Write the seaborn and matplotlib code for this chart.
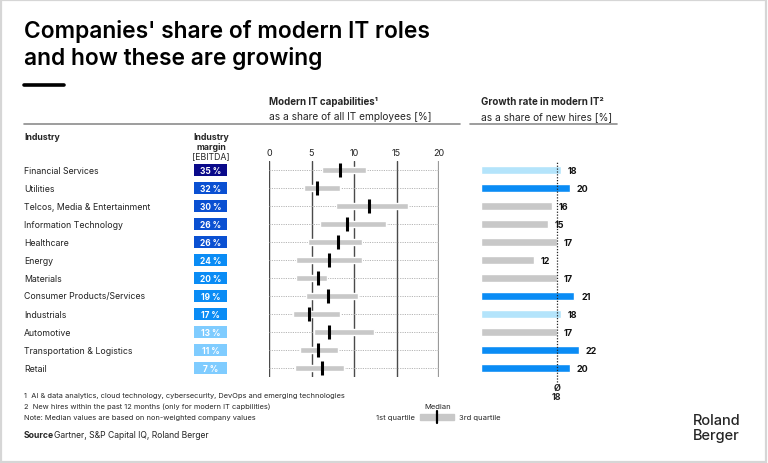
import numpy as np
import pandas as pd
import seaborn as sns
import matplotlib.pyplot as plt
import matplotlib.transforms as mtransforms
from matplotlib.colors import ListedColormap, BoundaryNorm
from matplotlib.patches import Rectangle
from matplotlib.lines import Line2D

industries = ["Financial Services", "Utilities", "Telcos, Media & Entertainment",
              "Information Technology", "Healthcare", "Energy", "Materials",
              "Consumer Products/Services", "Industrials", "Automotive",
              "Transportation & Logistics", "Retail"]
margin = [35, 32, 30, 26, 26, 24, 20, 19, 17, 13, 11, 7]
q1 = [6.2, 4.1, 7.9, 6.0, 4.6, 3.2, 3.2, 4.3, 2.8, 5.3, 3.6, 3.1]
median = [8.4, 5.7, 11.8, 9.2, 8.1, 7.1, 5.8, 6.9, 4.7, 7.0, 5.8, 6.2]
q3 = [11.4, 8.3, 16.3, 13.8, 10.9, 10.9, 6.8, 10.5, 8.3, 12.3, 8.1, 8.8]
growth = [18, 20, 16, 15, 17, 12, 17, 21, 18, 17, 22, 20]
growth_avg_line = 17.0
growth_avg_label = "18"
ticks = [0, 5, 10, 15, 20]

W, H = 768, 464
sns.set_theme(style="white")
plt.rcParams['font.family'] = ['Inter', 'DejaVu Sans']

fig = plt.figure(figsize=(W / 100, H / 100), dpi=100)


def box(x0, y0, x1, y1):
    # pixel box (top-left origin) -> figure rect
    return [x0 / W, 1 - y1 / H, (x1 - x0) / W, (y1 - y0) / H]


def fx(x):
    return x / W


def fy(y):
    return 1 - y / H


rows = np.arange(len(industries))
TOP, BOT = 162, 378

# frame
fig.add_artist(Rectangle((0.001, 0.002), 0.997, 0.995, transform=fig.transFigure,
                         fill=False, edgecolor="#d6d6d6", lw=1.6))

# title
fig.text(fx(24), fy(20), "Companies' share of modern IT roles\nand how these are growing",
         fontsize=16.4, fontweight="semibold", va="top", ha="left", linespacing=1.2,
         color="black")
fig.add_artist(Line2D([fx(24), fx(64)], [fy(86), fy(86)], color="black", lw=2.6,
                      transform=fig.transFigure))

# header lines
fig.add_artist(Line2D([fx(24), fx(460)], [fy(125), fy(125)], color="#8c8c8c", lw=1.2,
                      transform=fig.transFigure))
fig.add_artist(Line2D([fx(470), fx(617)], [fy(125), fy(125)], color="#8c8c8c", lw=1.2,
                      transform=fig.transFigure))
fig.text(fx(269), fy(102), "Modern IT capabilities\u00b9", fontsize=7.0, fontweight="bold",
         va="center")
fig.text(fx(269), fy(117), "as a share of all IT employees [%]", fontsize=7.3, va="center")
fig.text(fx(481), fy(102), "Growth rate in modern IT\u00b2", fontsize=7.0, fontweight="bold",
         va="center")
fig.text(fx(481), fy(117), "as a share of new hires [%]", fontsize=7.3, va="center")

fig.text(fx(24), fy(137), "Industry", fontsize=6.3, fontweight="bold", va="center")
fig.text(fx(211), fy(137), "Industry", fontsize=6.3, fontweight="bold", va="center", ha="center")
fig.text(fx(211), fy(147), "margin", fontsize=6.3, fontweight="bold", va="center", ha="center")
fig.text(fx(211), fy(157), "[EBITDA]", fontsize=6.3, va="center", ha="center")

# margin boxes
ax_m = fig.add_axes(box(191, TOP, 230, BOT))
mdf = pd.DataFrame({"margin": margin}, index=industries)
cmap = ListedColormap(["#7fccff", "#0a8cf5", "#0a50d2", "#0a0a8a"])
norm = BoundaryNorm([0, 15, 25, 33, 100], cmap.N)
annot = np.array([[f"{m} %"] for m in margin])
sns.heatmap(mdf, ax=ax_m, cmap=cmap, norm=norm, cbar=False, annot=annot, fmt="",
            linewidths=2.9, linecolor="white",
            annot_kws={"color": "white", "fontsize": 6, "fontweight": "bold"})
ax_m.set_xticks([])
ax_m.set_yticks([])
ax_m.set_xlabel("")
ax_m.set_ylabel("")

# industry labels
trans = mtransforms.blended_transform_factory(fig.transFigure, ax_m.transData)
for i, name in enumerate(industries):
    fig.text(fx(24), i + 0.5, name, transform=trans, fontsize=6.3, va="center", ha="left",
             color="#222222")

# quartile chart
ax_b = fig.add_axes(box(269, TOP, 439, BOT))
ax_b.set_xlim(0, 20)
ax_b.set_ylim(len(industries) - 0.5, -0.5)
for t in ticks:
    ax_b.axvline(t, color="#4a4a4a" if t < 20 else "#9a9a9a", lw=1.0 if t < 20 else 1.6,
                 zorder=1)
ax_b.hlines(rows, 0, 20, colors="#b5b5b5", linestyles=(0, (1.2, 1.2)), lw=0.7, zorder=1)
ax_b.barh(rows, np.array(q3) - np.array(q1), left=q1, height=0.34, color="#c8c8c8", zorder=2)
ax_b.vlines(median, rows - 0.4, rows + 0.4, colors="black", lw=2.2, zorder=3)
ax_b.xaxis.tick_top()
ax_b.set_xticks(ticks)
ax_b.set_xticklabels([str(t) for t in ticks], fontsize=6.5, color="#222222")
ax_b.tick_params(axis="x", length=0, pad=3)
ax_b.set_yticks([])
for s in ax_b.spines.values():
    s.set_visible(False)
ax_b.patch.set_alpha(0)

# growth bars
scale = 4.45
ax_g = fig.add_axes(box(481, TOP, 481 + 30 * scale, BOT))
gdf = pd.DataFrame({"industry": industries, "growth": growth})
gcolors = ["#0a8cf5" if g >= 20 else ("#b4e4fb" if g == 18 else "#c8c8c8") for g in growth]
sns.barplot(data=gdf, x="growth", y="industry", hue="industry", palette=gcolors,
            legend=False, ax=ax_g, width=0.45, orient="h", saturation=1)
ax_g.set_xlim(0, 30)
ax_g.set_ylim(len(industries) - 0.5, -0.5)
ax_g.axvline(growth_avg_line, ymin=-0.022, ymax=1, color="#222222", lw=0.9,
             linestyle=(0, (1, 1.3)), clip_on=False, zorder=3)
for i, g in enumerate(growth):
    ax_g.text(g + 1.5, i, str(g), va="center", ha="left", fontsize=6.5, fontweight="bold",
              color="#111111")
ax_g.text(growth_avg_line, -0.05, "\u00d8", transform=ax_g.get_xaxis_transform(),
          ha="center", va="center", fontsize=6.5, fontweight="bold")
ax_g.text(growth_avg_line, -0.088, growth_avg_label, transform=ax_g.get_xaxis_transform(),
          ha="center", va="center", fontsize=6.5, fontweight="bold")
ax_g.axis("off")

# footnotes
fig.text(fx(24), fy(396), "1  AI & data analytics, cloud technology, cybersecurity, DevOps and emerging technologies",
         fontsize=5.35, va="center")
fig.text(fx(24), fy(407), "2  New hires within the past 12 months (only for modern IT capbilities)",
         fontsize=5.35, va="center")
fig.text(fx(24), fy(418), "Note: Median values are based on non-weighted company values",
         fontsize=5.35, va="center")
fig.text(fx(24), fy(436), "Source", fontsize=6.2, fontweight="bold", va="center")
fig.text(fx(54), fy(436), "Gartner, S&P Capital IQ, Roland Berger", fontsize=6.2, va="center")

# legend
fig.text(fx(438), fy(407), "Median", fontsize=5.5, ha="center", va="center")
fig.text(fx(415), fy(418), "1st quartile", fontsize=5.5, ha="right", va="center")
fig.text(fx(459), fy(418), "3rd quartile", fontsize=5.5, ha="left", va="center")
fig.add_artist(Rectangle((fx(420), fy(421)), fx(454) - fx(420), fy(415) - fy(421),
                         transform=fig.transFigure, color="#c8c8c8"))
fig.add_artist(Line2D([fx(437), fx(437)], [fy(412), fy(424)], color="black", lw=1.6,
                      transform=fig.transFigure))

# logo
fig.text(fx(693), fy(421), "Roland", fontsize=10.5, fontweight="medium", va="center")
fig.text(fx(693), fy(436), "Berger", fontsize=10.5, fontweight="medium", va="center")

fig.savefig("out.png", dpi=100)
